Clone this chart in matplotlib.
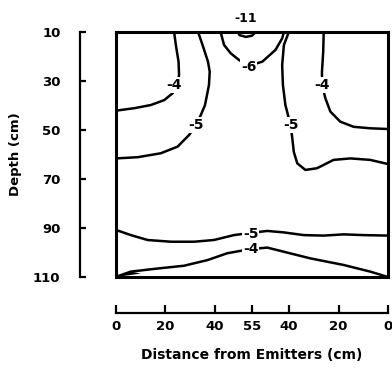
import matplotlib
matplotlib.use('Agg')
import matplotlib.pyplot as plt

# contour lines: x = distance position (0..110), d = depth (cm)
left4_x = [23.5, 24.2, 25.3, 25.5, 24.8, 22.9, 19.5, 14.1, 7.4, 0.0]
left4_d = [10.0, 15.3, 22.1, 27.6, 31.6, 35.0, 37.8, 39.8, 41.1, 42.1]

left5_x = [33.2, 35.0, 37.2, 37.9, 37.6, 36.0, 34.3, 32.3, 29.6, 24.9, 18.1, 8.8, 0.0]
left5_d = [10.0, 15.3, 22.1, 26.2, 31.6, 39.8, 43.9, 48.0, 52.0, 56.8, 59.5, 61.1, 61.6]

m6_x = [42.3, 43.7, 46.4, 49.7, 53.6, 59.2, 64.5, 67.2, 67.9]
m6_d = [10.0, 15.3, 18.7, 21.4, 23.8, 22.1, 17.3, 12.6, 10.0]

m11_x = [49.2, 50.0, 52.5, 55.0, 56.5]
m11_d = [10.0, 11.3, 12.0, 11.5, 10.0]

right5_x = [69.9, 67.9, 67.2, 67.5, 68.5, 70.6, 71.3, 71.9, 73.3, 76.6, 81.3, 88.0,
            94.8, 102.8, 110.0]
right5_d = [10.0, 15.3, 23.5, 31.6, 39.8, 48.0, 53.4, 58.9, 63.6, 66.3, 65.6, 62.2,
            61.6, 62.2, 63.9]

right4_x = [84.0, 83.8, 83.3, 83.3, 84.7, 86.7, 90.7, 96.1, 102.8, 110.0]
right4_d = [10.0, 18.0, 26.2, 31.6, 37.1, 42.5, 46.6, 48.7, 49.3, 49.6]

bot5_x = [0.0, 6.0, 12.8, 22.2, 31.6, 39.6, 47.7, 54.4, 61.2, 67.9, 75.9, 84.0,
          92.1, 100.1, 110.0]
bot5_d = [90.8, 92.9, 94.9, 95.6, 95.6, 94.9, 92.9, 92.0, 91.2, 91.8, 92.9, 93.1,
          92.6, 92.9, 93.1]

bot4_x = [0.0, 6.0, 15.4, 27.5, 37.0, 45.0, 54.4, 61.2, 67.9, 78.6, 92.1, 102.8, 110.0]
bot4_d = [109.9, 107.8, 106.7, 105.4, 103.1, 100.3, 98.6, 98.0, 99.7, 102.4, 105.1,
          107.8, 110.0]

# dark sliver in the bottom-left corner
wedge_x = [0.0, 6.0, 10.0]
wedge_d = [110.0, 107.8, 108.6]

# label text, x, depth
labels = [('-4', 23.4, 31.6), ('-5', 32.3, 48.0), ('-6', 53.6, 24.3),
          ('-5', 70.6, 48.0), ('-4', 83.3, 31.6), ('-5', 54.4, 92.4),
          ('-4', 54.4, 98.7)]
label_top = ('-11', 52.4, 4.3)

xtick_pos = [0, 20, 40, 55, 70, 90, 110]
xtick_lab = ['0', '20', '40', '55', '40', '20', '0']
ytick_pos = [10, 30, 50, 70, 90, 110]

plt.rcParams['font.family'] = 'DejaVu Sans'
plt.rcParams['font.weight'] = 'bold'

fig = plt.figure(figsize=(3.92, 3.69), dpi=100)
ax = fig.add_axes([116 / 392, 1 - 277 / 369, 272 / 392, 245 / 369])

lw = 1.8
for xs, ds in [(left4_x, left4_d), (left5_x, left5_d), (m6_x, m6_d),
               (m11_x, m11_d), (right5_x, right5_d), (right4_x, right4_d),
               (bot5_x, bot5_d), (bot4_x, bot4_d)]:
    ax.plot(xs, ds, color='black', lw=lw, solid_capstyle='round',
            solid_joinstyle='round')
ax.fill(wedge_x, wedge_d, color='black', lw=0)

for txt, x, d in labels:
    ax.text(x, d, txt, ha='center', va='center', fontsize=10, fontweight='bold',
            bbox=dict(facecolor='white', edgecolor='none', pad=0.5))
ax.text(label_top[1], label_top[2], label_top[0], ha='center', va='center',
        fontsize=9, fontweight='bold', clip_on=False)

ax.set_xlim(0, 110)
ax.set_ylim(110, 10)

# box edges (left/bottom spines are moved out to become the axes)
ax.axvline(0, color='black', lw=2.2, clip_on=False)
ax.axhline(110, color='black', lw=2.2, clip_on=False)
for s in ['top', 'right']:
    ax.spines[s].set_linewidth(2.2)
ax.spines['left'].set_position(('outward', 26))
ax.spines['bottom'].set_position(('outward', 26))
ax.spines['left'].set_linewidth(1.6)
ax.spines['bottom'].set_linewidth(1.6)

ax.set_xticks(xtick_pos)
ax.set_xticklabels(xtick_lab)
ax.set_yticks(ytick_pos)
ax.tick_params(axis='x', direction='in', length=6, width=1.6, pad=5, labelsize=9.5)
ax.tick_params(axis='y', direction='in', length=4, width=1.6, pad=14, labelsize=9.5)

ax.set_xlabel('Distance from Emitters (cm)', fontsize=10, fontweight='bold', labelpad=11)
ax.set_ylabel('Depth (cm)', fontsize=9.5, fontweight='bold', labelpad=8)

fig.savefig('out.png', dpi=100)
